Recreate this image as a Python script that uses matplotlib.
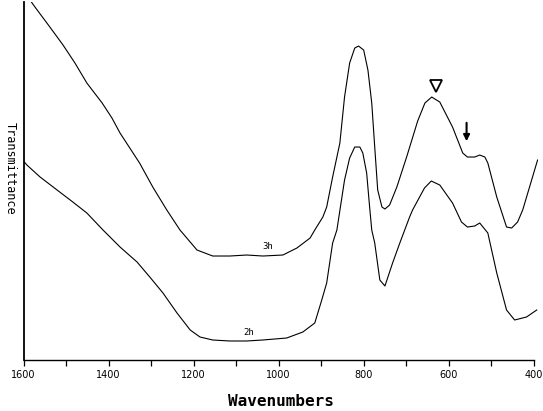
import numpy as np
import matplotlib
matplotlib.use("Agg")
import matplotlib.pyplot as plt

# 3h spectrum (upper trace), transmittance in arbitrary units
wn_3h = [1600, 1573, 1538, 1507, 1479, 1451, 1415, 1392, 1373, 1350, 1327,
         1296, 1263, 1232, 1192, 1155, 1115, 1075, 1037, 990, 957, 926,
         915, 896, 887, 873, 856, 845, 833, 821, 812, 800, 790, 781, 774,
         767, 757, 750, 739, 722, 699, 673, 656, 640, 621, 591, 567, 556,
         539, 527, 515, 508, 487, 464, 452, 438, 426, 391]
t_3h = [369, 353, 333, 315, 297, 277, 257, 242, 227, 212, 197,
        173, 150, 130, 110, 104, 104, 105, 104, 105, 112, 122,
        130, 143, 153, 183, 217, 263, 297, 312, 314, 310, 290, 257, 213,
        170, 153, 151, 155, 173, 203, 239, 257, 263, 258, 233, 207, 203,
        203, 205, 203, 197, 163, 133, 132, 138, 150, 200]

# 2h spectrum (lower trace)
wn_2h = [1600, 1592, 1561, 1521, 1484, 1451, 1413, 1373, 1333, 1303, 1272,
         1239, 1208, 1185, 1155, 1115, 1075, 1037, 981, 943, 915, 900,
         887, 873, 863, 845, 833, 821, 809, 802, 793, 786, 781, 774, 762,
         750, 732, 715, 692, 685, 657, 641, 621, 591, 570, 556, 539, 527,
         508, 487, 464, 445, 417, 393]
t_2h = [199, 195, 183, 170, 158, 147, 130, 113, 98, 83, 67,
        47, 30, 23, 20, 19, 19, 20, 22, 28, 37, 58,
        77, 117, 130, 180, 202, 213, 213, 207, 187, 153, 130, 117, 80,
        74, 97, 117, 143, 150, 172, 179, 175, 157, 138, 133, 134, 137,
        127, 87, 50, 40, 43, 50]

major_ticks = [1600, 1400, 1200, 1000, 800, 600, 400]
minor_ticks = [1500, 1300, 1100, 900, 700, 500]

fig = plt.figure(figsize=(5.43, 4.11), dpi=100)
ax = fig.add_axes([0.0433, 0.1241, 0.9475, 0.8709])

ax.plot(wn_3h, t_3h, color="black", lw=0.8, solid_joinstyle="round")
ax.plot(wn_2h, t_2h, color="black", lw=0.8, solid_joinstyle="round")

ax.text(1025, 114, "3h", fontsize=6.5, ha="center", va="center", family="DejaVu Sans Mono")
ax.text(1070, 27, "2h", fontsize=6.5, ha="center", va="center", family="DejaVu Sans Mono")

# open triangle over the 630 band, arrow at the shoulder
ax.plot([630], [274], marker="v", ms=9, mfc="white", mec="black", mew=1.3, ls="none")
ax.annotate("", xy=(558, 216), xytext=(558, 240),
            arrowprops=dict(arrowstyle="-|>", color="black", lw=1.5, mutation_scale=9))

ax.set_xlim(1600, 390)
ax.set_ylim(0, 358)
ax.spines["top"].set_visible(False)
ax.spines["right"].set_visible(False)
ax.spines["bottom"].set_bounds(400, 1600)
ax.spines["left"].set_linewidth(1.3)
ax.spines["bottom"].set_linewidth(1.0)

ax.set_xticks(major_ticks)
ax.set_xticks(minor_ticks, minor=True)
ax.tick_params(axis="x", which="both", direction="out", length=4, width=0.9,
               labelsize=7, pad=3)
ax.set_yticks([])

ax.set_xlabel("Wavenumbers", fontsize=11.5, fontweight="bold",
              family="DejaVu Sans Mono", labelpad=10)
fig.text(0.018, 0.59, "Transmittance", rotation=-90, fontsize=8.5,
         family="DejaVu Sans Mono", ha="center", va="center")

fig.savefig("out.png", dpi=100)
